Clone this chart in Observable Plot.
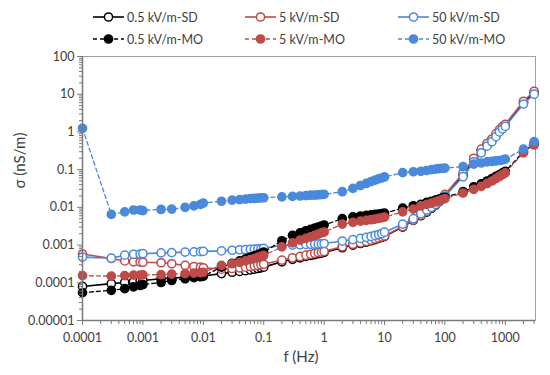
<!DOCTYPE html>
<html>
<head>
<meta charset="utf-8">
<script src="https://cdn.jsdelivr.net/npm/d3@7"></script>
<script src="https://cdn.jsdelivr.net/npm/@observablehq/plot@0.6"></script>
<style>
  html, body { margin: 0; padding: 0; background: #fff; }
  #wrap { width: 550px; height: 375px; position: relative; font-family: Lato, "Liberation Sans", sans-serif; }
  #legend { position: relative; height: 48px; width: 550px; }
  .item { position: absolute; display: flex; align-items: center; font-size: 12.5px; color: #404040; white-space: nowrap; }
  .item svg { display: block; margin-right: 2px; }
</style>
</head>
<body>
<div id="wrap">
  <div id="legend"></div>
  <div id="chart"></div>
</div>
<script>
// Frequencies (Hz)
const freq = [1e-4, 3e-4, 5e-4, 7e-4, 9e-4, 1e-3, 2e-3, 3e-3, 5e-3, 7e-3, 9e-3, 1e-2,
  2e-2, 3e-2, 4e-2, 5e-2, 6e-2, 7e-2, 8e-2, 9e-2, 0.1,
  0.2, 0.3, 0.4, 0.5, 0.6, 0.7, 0.8, 0.9, 1,
  2, 3, 4, 5, 6, 7, 8, 9, 10,
  20, 30, 40, 50, 60, 70, 80, 90, 100,
  200, 300, 400, 500, 600, 700, 800, 900, 1000, 2000, 3000];

// σ (nS/m)
const sd05 = [8.0e-5, 9.5e-5, 1.02e-4, 1.08e-4, 1.12e-4, 1.15e-4, 1.28e-4, 1.33e-4, 1.40e-4, 1.45e-4, 1.48e-4, 1.52e-4,
  1.75e-4, 1.9e-4, 2.0e-4, 2.1e-4, 2.2e-4, 2.3e-4, 2.4e-4, 2.5e-4, 2.6e-4,
  3.6e-4, 4.2e-4, 4.6e-4, 5.0e-4, 5.3e-4, 5.6e-4, 5.9e-4, 6.1e-4, 6.4e-4,
  8.5e-4, 1.0e-3, 1.1e-3, 1.2e-3, 1.3e-3, 1.4e-3, 1.5e-3, 1.6e-3, 1.7e-3,
  3.0e-3, 4.5e-3, 6.0e-3, 7.5e-3, 9.5e-3, 1.15e-2, 1.4e-2, 1.7e-2, 2.0e-2,
  7.0e-2, 0.18, 0.32, 0.45, 0.6, 0.8, 1.05, 1.3, 1.5, 6.0, 11];
const sd5 = [5.8e-4, 4.4e-4, 3.8e-4, 3.6e-4, 3.55e-4, 3.5e-4, 3.4e-4, 3.2e-4, 2.9e-4, 2.7e-4, 2.6e-4, 2.5e-4,
  2.3e-4, 2.4e-4, 2.5e-4, 2.6e-4, 2.7e-4, 2.8e-4, 2.9e-4, 3.0e-4, 3.1e-4,
  4.0e-4, 4.6e-4, 5.0e-4, 5.4e-4, 5.7e-4, 6.0e-4, 6.3e-4, 6.5e-4, 6.8e-4,
  9.0e-4, 1.05e-3, 1.15e-3, 1.25e-3, 1.35e-3, 1.45e-3, 1.55e-3, 1.65e-3, 1.75e-3,
  3.1e-3, 4.6e-3, 6.2e-3, 7.8e-3, 1.0e-2, 1.2e-2, 1.5e-2, 1.8e-2, 2.2e-2,
  8.0e-2, 0.2, 0.35, 0.5, 0.65, 0.9, 1.15, 1.4, 1.6, 6.5, 12];
const sd50 = [4.8e-4, 4.5e-4, 5.4e-4, 5.7e-4, 5.8e-4, 5.9e-4, 6.2e-4, 6.3e-4, 6.5e-4, 6.6e-4, 6.7e-4, 6.8e-4,
  7.0e-4, 7.3e-4, 7.5e-4, 7.6e-4, 7.7e-4, 7.8e-4, 7.9e-4, 8.0e-4, 8.2e-4,
  9.8e-4, 1.0e-3, 1.02e-3, 1.04e-3, 1.05e-3, 1.06e-3, 1.07e-3, 1.08e-3, 1.1e-3,
  1.28e-3, 1.4e-3, 1.5e-3, 1.6e-3, 1.7e-3, 1.8e-3, 1.9e-3, 2.0e-3, 2.2e-3,
  3.6e-3, 5.0e-3, 6.8e-3, 8.5e-3, 1.0e-2, 1.2e-2, 1.4e-2, 1.7e-2, 2.0e-2,
  6.5e-2, 0.16, 0.28, 0.42, 0.55, 0.75, 1.0, 1.2, 1.4, 5.5, 10];
const mo05 = [5.5e-5, 6.3e-5, 7.0e-5, 7.8e-5, 8.5e-5, 9.0e-5, 1.02e-4, 1.15e-4, 1.28e-4, 1.37e-4, 1.45e-4, 1.5e-4,
  2.6e-4, 3.3e-4, 3.8e-4, 4.3e-4, 4.8e-4, 5.2e-4, 5.6e-4, 6.0e-4, 6.5e-4,
  1.3e-3, 1.8e-3, 2.1e-3, 2.4e-3, 2.6e-3, 2.8e-3, 3.0e-3, 3.2e-3, 3.4e-3,
  5.0e-3, 5.6e-3, 5.9e-3, 6.1e-3, 6.3e-3, 6.5e-3, 6.6e-3, 6.8e-3, 7.0e-3,
  9.5e-3, 1.1e-2, 1.2e-2, 1.35e-2, 1.45e-2, 1.55e-2, 1.65e-2, 1.75e-2, 1.85e-2,
  2.6e-2, 3.5e-2, 4.2e-2, 5.0e-2, 5.8e-2, 6.6e-2, 7.4e-2, 8.2e-2, 9.0e-2, 0.3, 0.48];
const mo5 = [1.55e-4, 1.5e-4, 1.55e-4, 1.6e-4, 1.6e-4, 1.62e-4, 1.65e-4, 1.7e-4, 1.75e-4, 1.8e-4, 1.85e-4, 1.9e-4,
  2.9e-4, 3.2e-4, 3.5e-4, 3.8e-4, 4.1e-4, 4.4e-4, 4.7e-4, 5.0e-4, 5.3e-4,
  9.0e-4, 1.15e-3, 1.35e-3, 1.5e-3, 1.65e-3, 1.8e-3, 1.95e-3, 2.1e-3, 2.2e-3,
  3.6e-3, 4.0e-3, 4.3e-3, 4.5e-3, 4.7e-3, 4.9e-3, 5.1e-3, 5.3e-3, 5.5e-3,
  7.6e-3, 9.0e-3, 1.1e-2, 1.2e-2, 1.3e-2, 1.4e-2, 1.5e-2, 1.6e-2, 1.7e-2,
  2.4e-2, 3.0e-2, 3.6e-2, 4.3e-2, 5.0e-2, 5.8e-2, 6.6e-2, 7.4e-2, 8.2e-2, 0.28, 0.45];
const mo50 = [1.25, 6.5e-3, 7.6e-3, 8.5e-3, 8.5e-3, 8.2e-3, 8.8e-3, 9.0e-3, 1.0e-2, 1.1e-2, 1.2e-2, 1.3e-2,
  1.45e-2, 1.55e-2, 1.6e-2, 1.65e-2, 1.7e-2, 1.72e-2, 1.75e-2, 1.78e-2, 1.8e-2,
  1.9e-2, 1.95e-2, 2.0e-2, 2.05e-2, 2.1e-2, 2.12e-2, 2.15e-2, 2.18e-2, 2.2e-2,
  2.6e-2, 3.2e-2, 3.8e-2, 4.3e-2, 4.8e-2, 5.3e-2, 5.7e-2, 6.0e-2, 6.4e-2,
  8.3e-2, 8.8e-2, 9.0e-2, 9.5e-2, 0.1, 0.103, 0.106, 0.108, 0.11,
  0.12, 0.14, 0.15, 0.16, 0.165, 0.17, 0.175, 0.18, 0.19, 0.35, 0.55];

const seriesNames = ["0.5 kV/m-SD", "5 kV/m-SD", "50 kV/m-SD", "0.5 kV/m-MO", "5 kV/m-MO", "50 kV/m-MO"];
const seriesValues = [sd05, sd5, sd50, mo05, mo5, mo50];

const xTicks = [1e-4, 1e-3, 1e-2, 1e-1, 1, 10, 100, 1000];
const xTickLabels = ["0.0001", "0.001", "0.01", "0.1", "1", "10", "100", "1000"];
const yTicks = [1e-5, 1e-4, 1e-3, 1e-2, 1e-1, 1, 10, 100];
const yTickLabels = ["0.00001", "0.0001", "0.001", "0.01", "0.1", "1", "10", "100"];

// styling
const colors = ["#000000", "#be4b48", "#4a89dc", "#000000", "#be4b48", "#4a89dc"];
const isSD = [true, true, true, false, false, false];

const xMax = 3162.28;
const minor = (majors, max) => majors.flatMap(d => [2,3,4,5,6,7,8,9].map(k => d * k)).filter(v => v <= max);
const xMinor = minor(xTicks, xMax);
const yMinor = minor(yTicks.slice(0, -1), 100);

const series = seriesNames.map((name, s) => ({
  name, color: colors[s], sd: isSD[s],
  rows: freq.map((f, i) => ({f, v: seriesValues[s][i]}))
}));

const marks = [
  Plot.frame({stroke: "#a0a0a0"}),
];
for (const s of series) {
  marks.push(Plot.line(s.rows, {x: "f", y: "v", stroke: s.color, strokeWidth: s.sd ? 1.6 : 1.3,
    strokeDasharray: s.sd ? null : "4,3"}));
  marks.push(Plot.dot(s.rows, {x: "f", y: "v", r: 4.1, stroke: s.color, strokeWidth: 1.5,
    fill: s.sd ? "#fff" : s.color}));
}
const xLab = d => xTickLabels[xTicks.indexOf(d)];
const yLab = d => yTickLabels[yTicks.indexOf(d)];
marks.push(
  Plot.ruleY([yTicks[0]], {stroke: "#7a7a7a", strokeWidth: 1.5}),
  Plot.ruleX([xTicks[0]], {stroke: "#7a7a7a", strokeWidth: 1.5}),
  Plot.axisX(xTicks, {tickSize: 5, text: null, stroke: "#7a7a7a", label: null}),
  Plot.axisX(xMinor, {tickSize: 4, text: null, stroke: "#7a7a7a", label: null}),
  Plot.axisX(xTicks, {tickSize: 0, tickPadding: 13, tickFormat: xLab, fill: "#404040", label: null}),
  Plot.axisY(yTicks, {tickSize: 5, text: null, stroke: "#7a7a7a", label: null}),
  Plot.axisY(yMinor, {tickSize: 3, text: null, stroke: "#7a7a7a", label: null}),
  Plot.axisY(yTicks, {tickSize: 0, tickPadding: 8, tickFormat: yLab, fill: "#404040", label: null}),
  Plot.text(["f (Hz)"], {frameAnchor: "bottom", dy: 41, dx: -8, fontSize: 15, fill: "#404040"}),
  Plot.text(["σ (nS/m)"], {frameAnchor: "left", dx: -62, rotate: -90, fontSize: 15, fill: "#404040"})
);

const chart = Plot.plot({
  width: 550,
  height: 327,
  marginLeft: 82,
  marginRight: 15,
  marginTop: 8,
  marginBottom: 55,
  style: {fontFamily: "Lato, 'Liberation Sans', sans-serif", fontSize: "12.5px", color: "#404040", background: "#fff"},
  x: {type: "log", domain: [1e-4, xMax]},
  y: {type: "log", domain: [1e-5, 100]},
  marks
});
document.getElementById("chart").appendChild(chart);

// Legend (HTML)
const legendPos = [[93, 17], [245, 17], [398, 17], [93, 39], [245, 39], [398, 39]];
const legend = document.getElementById("legend");
series.forEach((s, i) => {
  const [lx, ly] = legendPos[i];
  const div = document.createElement("div");
  div.className = "item";
  div.style.left = lx + "px";
  div.style.top = (ly - 8) + "px";
  div.style.height = "16px";
  const dash = s.sd ? "" : `stroke-dasharray="4,3"`;
  div.innerHTML = `<svg width="32" height="16"><line x1="0" y1="8" x2="31" y2="8" stroke="${s.color}" stroke-width="${s.sd ? 1.6 : 1.3}" ${dash}/><circle cx="15.5" cy="8" r="4.1" stroke="${s.color}" stroke-width="1.5" fill="${s.sd ? '#fff' : s.color}"/></svg><span>${s.name}</span>`;
  legend.appendChild(div);
});
</script>
</body>
</html>
